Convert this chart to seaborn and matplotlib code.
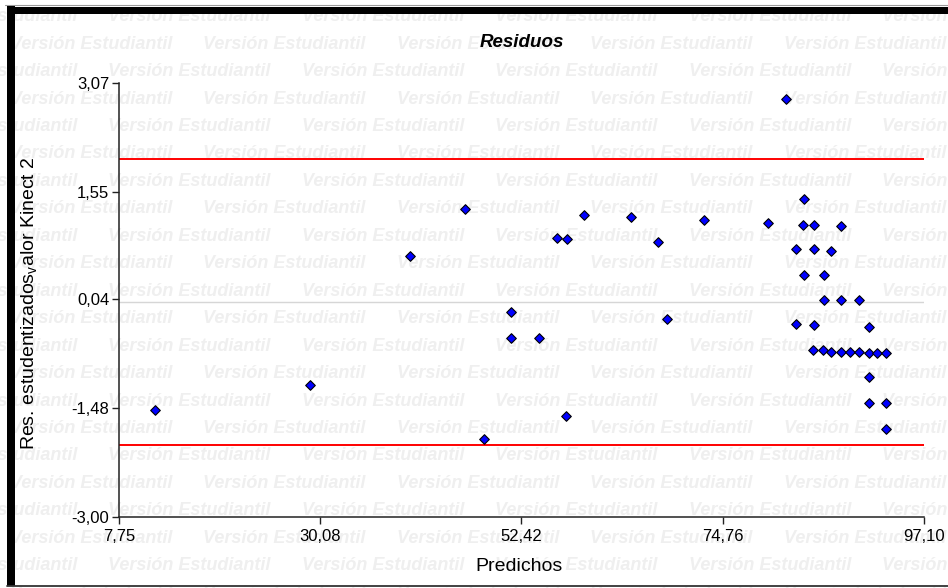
import matplotlib
matplotlib.use("Agg")
import matplotlib.pyplot as plt
import seaborn as sns
import pandas as pd
from matplotlib.patches import Rectangle
from matplotlib.lines import Line2D

# ---------------- data ----------------
predichos = [11.74, 28.93, 40.10, 46.20, 48.23, 51.30, 51.30, 54.37, 56.33, 57.44,
             57.40, 59.40, 64.60, 67.60, 68.53, 72.67, 79.84, 81.80, 82.87, 82.87,
             83.80, 83.70, 83.80, 84.87, 84.87, 84.87, 84.79, 85.95, 85.95, 85.90,
             86.80, 86.80, 87.94, 87.94, 87.90, 88.93, 89.86, 89.86, 90.94, 90.94,
             90.94, 90.94, 91.93, 92.90, 92.90, 92.90]
residuos = [-1.51, -1.15, 0.65, 1.31, -1.91, -0.14, -0.50, -0.50, 0.90, 0.88,
            -1.59, 1.22, 1.20, 0.84, -0.23, 1.15, 1.11, 2.85, 0.74, -0.30,
            1.45, 1.08, 0.38, 1.08, 0.74, -0.32, -0.66, 0.38, 0.03, -0.66,
            0.72, -0.69, 1.07, 0.03, -0.69, -0.69, 0.03, -0.69, -0.34, -0.71,
            -1.04, -1.41, -0.71, -0.71, -1.41, -1.77]
x_ticks = [7.75, 30.08, 52.42, 74.76, 97.10]
x_tick_labels = ["7,75", "30,08", "52,42", "74,76", "97,10"]
y_ticks = [-3.00, -1.48, 0.04, 1.55, 3.07]
y_tick_labels = ["-3,00", "-1,48", "0,04", "1,55", "3,07"]
limit_lines = [-2.0, 2.0]
zero_line = [0.0]
title = "Residuos"
x_label = "Predichos"
y_label = r"Res. estudentizados$_{\mathrm{v}}$alor Kinect 2"
watermark = "Versión Estudiantil"

df = pd.DataFrame({"Predichos": predichos, "Residuos": residuos})

# ---------------- style ----------------
sns.set_theme(style="white")
plt.rcParams["font.family"] = ["Liberation Sans", "DejaVu Sans"]
plt.rcParams["mathtext.fontset"] = "custom"
plt.rcParams["mathtext.rm"] = "Liberation Sans"
plt.rcParams["mathtext.it"] = "Liberation Sans:italic"

W, H = 948, 588
fig = plt.figure(figsize=(W / 100, H / 100), dpi=100)
fig.patch.set_facecolor("white")

# watermark rows
period = 193.5
for i in range(22):
    yy = 16.7 + 27.45 * i
    x0 = -85.2 if i % 2 == 0 else 9.8
    xx = x0
    while xx < W:
        fig.text(xx / W, 1 - yy / H, watermark, fontsize=13, fontweight="bold",
                 fontstyle="italic", color="#efefef", ha="left", va="center",
                 zorder=-5)
        xx += period

# frame decorations (black border top/left, thin lines)
fig.add_artist(Line2D([5 / W, 1], [1 - 5 / H, 1 - 5 / H], color="#9a9a9a", lw=0.8,
                      transform=fig.transFigure, zorder=20))
fig.add_artist(Rectangle((6.5 / W, 1 - 13.5 / H), 1, 7 / H, transform=fig.transFigure,
                         facecolor="black", edgecolor="none", zorder=20))
fig.add_artist(Rectangle((6.5 / W, 1 - 586 / H), 8.5 / W, 580 / H, transform=fig.transFigure,
                         facecolor="black", edgecolor="none", zorder=20))
fig.add_artist(Line2D([6.5 / W, 1], [1 - 585.5 / H, 1 - 585.5 / H], color="#333333", lw=1.3,
                      transform=fig.transFigure, zorder=20))

# ---------------- axes ----------------
ax = fig.add_axes([119 / W, 1 - 516.7 / H, (924 - 119) / W, (516.7 - 83) / H])
ax.set_facecolor("none")

for v in zero_line:
    ax.axhline(v, color="#d6d6d6", lw=1.0, zorder=1)
for v in limit_lines:
    ax.axhline(v, color="#ff0000", lw=1.4, zorder=2)

sns.scatterplot(data=df, x="Predichos", y="Residuos", marker="D", s=24,
                color="#0000ff", edgecolor="black", linewidth=0.8, ax=ax,
                zorder=5, clip_on=False, legend=False)

ax.set_xlim(x_ticks[0], x_ticks[-1])
ax.set_ylim(y_ticks[0], y_ticks[-1])
ax.set_xticks(x_ticks)
ax.set_xticklabels(x_tick_labels)
ax.set_yticks(y_ticks)
ax.set_yticklabels(y_tick_labels)

for s in ["top", "right"]:
    ax.spines[s].set_visible(False)
for s in ["left", "bottom"]:
    ax.spines[s].set_color("#222222")
    ax.spines[s].set_linewidth(1.1)

ax.tick_params(axis="both", direction="out", length=5, width=1.0, color="#222222",
               labelsize=12, labelcolor="black", pad=2)
ax.tick_params(axis="x", bottom=True, pad=4)
ax.tick_params(axis="y", left=True)
ax.grid(False)

ax.set_title(title, fontsize=13.5, fontweight="bold", fontstyle="italic", pad=26,
             color="black")
ax.set_xlabel(x_label, fontsize=14, color="black")
ax.xaxis.set_label_coords(0.4975, -0.095)
ax.set_ylabel(y_label, fontsize=14, color="black")
ax.yaxis.set_label_coords(-0.099, 0.493)

fig.savefig("out.png", dpi=100, facecolor="white")
